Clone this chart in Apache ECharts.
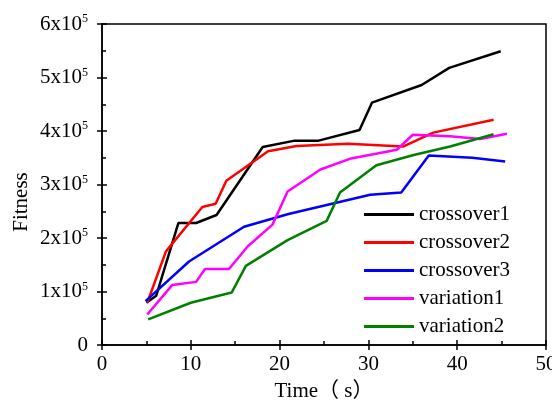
<!DOCTYPE html>
<html>
<head>
<meta charset="utf-8">
<script src="https://cdn.jsdelivr.net/npm/echarts@6/dist/echarts.min.js"></script>
<style>
html,body{margin:0;padding:0;background:#fff;}
#c{width:552px;height:403px;}
</style>
</head>
<body>
<div id="c"></div>
<script>
var seriesNames = ['crossover1', 'crossover2', 'crossover3', 'variation1', 'variation2'];

var crossover1T = [5.0, 6.1, 8.6, 10.6, 12.9, 18.1, 21.7, 24.4, 29.0, 30.4, 36.0, 39.1, 44.9];
var crossover1V = [79000, 92000, 228000, 228000, 243000, 370000, 382000, 382000, 402000, 453000, 486000, 518000, 549000];

var crossover2T = [5.1, 7.2, 11.3, 12.8, 14.0, 18.7, 21.9, 27.7, 33.9, 37.3, 44.1];
var crossover2V = [79000, 175000, 258000, 264000, 307000, 362000, 372000, 376000, 371000, 397000, 421000];

var crossover3T = [4.9, 9.8, 16.0, 21.0, 30.2, 33.7, 36.8, 41.7, 45.4];
var crossover3V = [82000, 156000, 221000, 245000, 281000, 285000, 354000, 350000, 343000];

var variation1T = [5.1, 7.9, 10.6, 11.6, 14.3, 16.4, 19.2, 20.9, 24.6, 27.9, 33.2, 35.0, 39.2, 42.6, 45.6];
var variation1V = [57000, 112000, 118000, 142000, 142000, 184000, 225000, 287000, 328000, 348000, 365000, 393000, 390000, 385000, 395000];

var variation2T = [5.2, 10.0, 14.6, 16.2, 20.9, 25.3, 26.8, 30.9, 35.1, 39.2, 44.1];
var variation2V = [48000, 79000, 98000, 148000, 196000, 232000, 285000, 336000, 355000, 371000, 394000];

var xTicks = [0, 10, 20, 30, 40, 50];
var yTicks = [0, 100000, 200000, 300000, 400000, 500000, 600000];

var xTitle = 'Time（ s）';
var yTitle = 'Fitness';

var colors = ['#000000', '#ff0000', '#0000ff', '#ff00ff', '#008000'];

var FONT = "'Liberation Serif','Times New Roman',serif";

function pairs(t, v) {
  var out = [];
  for (var i = 0; i < t.length; i++) out.push([t[i], v[i]]);
  return out;
}
var allT = [crossover1T, crossover2T, crossover3T, variation1T, variation2T];
var allV = [crossover1V, crossover2V, crossover3V, variation1V, variation2V];

var series = seriesNames.map(function (n, i) {
  return {
    name: n,
    type: 'line',
    xAxisIndex: 0,
    yAxisIndex: 0,
    data: pairs(allT[i], allV[i]),
    showSymbol: false,
    symbol: 'none',
    lineStyle: { color: colors[i], width: 2.5 },
    itemStyle: { color: colors[i] },
    animation: false
  };
});

var xMin = xTicks[0], xMax = xTicks[xTicks.length - 1], xInt = xTicks[1] - xTicks[0];
var yMin = yTicks[0], yMax = yTicks[yTicks.length - 1], yInt = yTicks[1] - yTicks[0];

var chart = echarts.init(document.getElementById('c'));
chart.setOption({
  animation: false,
  backgroundColor: '#fff',
  grid: {
    left: 102, right: 6, top: 24, bottom: 58,
    containLabel: false, outerBoundsMode: 'none',
    show: true, borderColor: '#000', borderWidth: 1.5, backgroundColor: 'transparent'
  },
  legend: {
    orient: 'vertical',
    left: 359, top: 199,
    icon: 'rect',
    itemWidth: 50, itemHeight: 3,
    itemGap: 7,
    textStyle: { fontFamily: FONT, fontSize: 21, color: '#000' },
    data: seriesNames
  },
  xAxis: [{
    type: 'value', min: xMin, max: xMax, interval: xInt, position: 'bottom',
    axisLine: { show: true, lineStyle: { color: '#000', width: 1.5 } },
    axisTick: { show: true, inside: false, length: 5, lineStyle: { color: '#000', width: 1.5 } },
    axisLabel: { show: true, margin: 9, fontFamily: FONT, fontSize: 21, color: '#000', hideOverlap: false },
    splitLine: { show: false }
  }, {
    type: 'value', min: xMin, max: xMax, interval: xInt, position: 'bottom',
    axisLine: { show: false },
    axisTick: { show: true, inside: true, length: 5, lineStyle: { color: '#000', width: 1.5 } },
    minorTick: { show: true, splitNumber: 2, length: 4, lineStyle: { color: '#000', width: 1.5 } },
    axisLabel: { show: false },
    splitLine: { show: false }
  }],
  yAxis: [{
    type: 'value', min: yMin, max: yMax, interval: yInt, position: 'left',
    axisLine: { show: true, lineStyle: { color: '#000', width: 1.5 } },
    axisTick: { show: true, inside: false, length: 5, lineStyle: { color: '#000', width: 1.5 } },
    axisLabel: {
      show: true, margin: 14, fontFamily: FONT, fontSize: 21, color: '#000',
      formatter: function (v) {
        if (v === 0) return '0';
        return '{a|' + (v / 100000) + 'x10}{b|5}';
      },
      rich: {
        a: { fontFamily: FONT, fontSize: 21, color: '#000', lineHeight: 22 },
        b: { fontFamily: FONT, fontSize: 12, color: '#000', verticalAlign: 'top', lineHeight: 12 }
      }
    },
    splitLine: { show: false }
  }, {
    type: 'value', min: yMin, max: yMax, interval: yInt, position: 'left',
    axisLine: { show: false },
    axisTick: { show: true, inside: true, length: 5, lineStyle: { color: '#000', width: 1.5 } },
    minorTick: { show: true, splitNumber: 2, length: 4, lineStyle: { color: '#000', width: 1.5 } },
    axisLabel: { show: false },
    splitLine: { show: false }
  }],
  graphic: [{
    type: 'text', x: 21, y: 202, rotation: Math.PI / 2,
    style: { text: yTitle, font: "21px 'Liberation Serif','Times New Roman',serif", fill: '#000', align: 'center', verticalAlign: 'middle' }
  }, {
    type: 'text', x: 324, y: 391,
    style: { text: xTitle, font: "21px 'Liberation Serif','Times New Roman','Noto Sans CJK SC',serif", fill: '#000', align: 'center', verticalAlign: 'middle' }
  }],
  series: series
});
</script>
</body>
</html>
